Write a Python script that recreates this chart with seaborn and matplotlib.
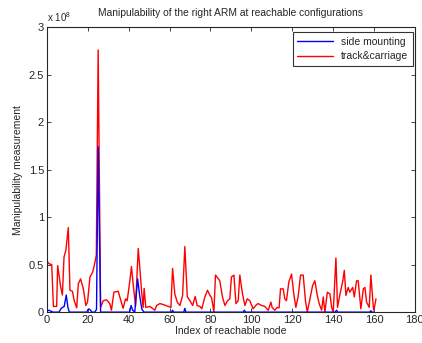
import matplotlib
import matplotlib.pyplot as plt
import seaborn as sns
from matplotlib.ticker import FormatStrFormatter

matplotlib.use('Agg')

# Values, in units of 1e7
red_x = [0, 1, 2.4, 3.2, 4.8, 5.3, 6.8, 7.6, 8.4, 9.3, 10.5, 11.3, 12.5, 13.4, 14.6, 15.4, 16.5, 17.8,
         19.1, 19.9, 21.1, 22.4, 23.2, 24.2, 25.1, 26.3, 27.6, 29.2, 30.8, 31.6, 32.8, 34.9, 35.7, 37.3,
         38.5, 39.3, 40.6, 41.4, 42.2, 43.4, 44.7, 45.5, 46.3, 47.1, 47.6, 48.4, 50.4, 52.8, 53.7, 55.3,
         56.9, 59.4, 60.7, 61.5, 62.6, 63.8, 65.1, 66.4, 67.5, 68.7, 70, 71.3, 72.6, 73.5, 74.9, 75.8,
         77.3, 78.6, 79.8, 80.6, 81.7, 82.5, 84.6, 85.9, 87.1, 88.4, 89.5, 90.3, 91.5, 92.5, 93.6, 94.4,
         95.7, 96.9, 98, 99.3, 100.9, 102.6, 103.4, 105, 106.6, 108.3, 109.6, 110.2, 111.5, 112.7, 113.6,
         114.3, 115.6, 116.4, 117.2, 118.4, 119.7, 120.8, 121.8, 122.9, 124.1, 125.4, 126.5, 127.4, 128.7,
         130, 131.1, 132.3, 133.2, 134.4, 135.2, 136, 137.2, 138.5, 139.3, 140.1, 141.4, 142.2, 143.4,
         144.7, 145.5, 146.3, 147.4, 148.2, 149.6, 150.4, 151.5, 152.3, 153.6, 154.8, 155.6, 156.4, 157.7,
         158.5, 159.7, 160, 161]
red_y = [5.4, 5.1, 5.0, 0.6, 0.6, 4.9, 2.6, 1.8, 5.8, 6.5, 8.9, 2.3, 2.2, 1.2, 0.45, 3.0, 3.5, 2.5,
         0.7, 1.05, 3.7, 4.2, 4.9, 6.0, 27.6, 0.5, 1.2, 1.3, 0.9, 0.2, 2.1, 2.2, 1.6, 0.4,
         1.4, 1.2, 3.3, 4.8, 3.0, 0.6, 6.7, 4.6, 2.3, 0.5, 2.5, 0.5, 0.6, 0.2, 0.7, 0.9,
         0.8, 0.6, 0.5, 4.6, 1.9, 1.05, 0.7, 1.75, 6.9, 1.6, 1.2, 0.7, 1.65, 0.7, 0.6, 0.35,
         1.6, 2.3, 1.75, 1.5, 0, 3.9, 3.3, 1.6, 0.7, 1.2, 1.4, 3.7, 3.9, 0.9, 1.2, 3.9,
         1.9, 0.7, 1.4, 1.2, 0.35, 0.8, 0.9, 0.7, 0.6, 0.2, 1.05, 0.5, 0.2, 0.5, 0.45,
         2.45, 2.45, 1.4, 1.2, 3.2, 4.0, 1.9, 0.5, 1.6, 3.9, 3.9, 1.2, 0, 1.4,
         2.8, 3.3, 1.75, 0.9, 0.2, 1.6, 0, 2.1, 1.9, 0.5, 0, 5.7, 0.5, 1.9,
         3.2, 4.4, 1.75, 2.6, 2.1, 2.6, 1.6, 3.3, 3.3, 0.35, 2.45, 2.6, 1.05, 0.5,
         3.9, 0.5, 0.2, 1.4]

blue_x = [0, 1, 2, 3, 6, 7, 8.5, 9.5, 10.3, 11, 19.5, 20.2, 21, 22, 23.5, 24.3, 25.1, 26.3, 40.5,
          41.2, 42, 43, 44.4, 45.5, 46.5, 47.5, 61, 61.5, 62, 67, 67.5, 68, 96, 96.6, 97.2, 141,
          141.7, 142.3, 158, 158.5, 159, 160]
blue_y = [0.1, 0.2, 0.1, 0, 0, 0.4, 0.6, 1.8, 0.5, 0, 0, 0.3, 0.3, 0, 0, 0.3, 17.4, 0, 0,
          0.7, 0.2, 0, 3.5, 1.6, 0.3, 0, 0, 0.2, 0, 0, 0.4, 0, 0, 0.2, 0, 0,
          0.2, 0, 0, 0.15, 0, 0]

series_names = ['side mounting', 'track&carriage']

sns.set_style("ticks")
plt.rcParams['font.family'] = ['Liberation Sans', 'DejaVu Sans']
plt.rcParams['mathtext.fontset'] = 'custom'
plt.rcParams['mathtext.rm'] = 'Liberation Sans'

fig = plt.figure(figsize=(4.22, 3.43), dpi=100)
ax = fig.add_axes([0.111, 0.090, 0.872, 0.831])

# plot in units of 1e8
sns.lineplot(x=blue_x, y=[v / 10 for v in blue_y], color='#0000ff', linewidth=1.0,
             label=series_names[0], ax=ax, zorder=3, estimator=None, sort=False)
sns.lineplot(x=red_x, y=[v / 10 for v in red_y], color='#ff0000', linewidth=1.0,
             label=series_names[1], ax=ax, zorder=2, estimator=None, sort=False)

ax.set_xlim(0, 180)
ax.set_ylim(0, 3)
ax.set_xticks(range(0, 181, 20))
ax.set_yticks([0, 0.5, 1, 1.5, 2, 2.5, 3])
ax.yaxis.set_major_formatter(FormatStrFormatter('%g'))
ax.tick_params(direction='in', top=True, right=True, labelsize=8, length=3, width=0.6, pad=2)
for s in ax.spines.values():
    s.set_visible(True)
    s.set_linewidth(0.8)

ax.set_xlabel('Index of reachable node', fontsize=7.5, labelpad=1)
ax.set_ylabel('Manipulability measurement', fontsize=7.5, labelpad=4)
ax.set_title('Manipulability of the right ARM at reachable configurations', fontsize=7.4, pad=8)
ax.text(0.0, 1.012, r'x 10$^{8}$', transform=ax.transAxes, fontsize=7, ha='left', va='bottom')

leg = ax.legend(loc='upper right', bbox_to_anchor=(0.995, 0.983), borderaxespad=0,
                fontsize=7.5, frameon=True, fancybox=False, edgecolor='black',
                handlelength=3.4, borderpad=0.45, labelspacing=0.45)
leg.get_frame().set_linewidth(0.8)

fig.savefig('out.png', dpi=100)
